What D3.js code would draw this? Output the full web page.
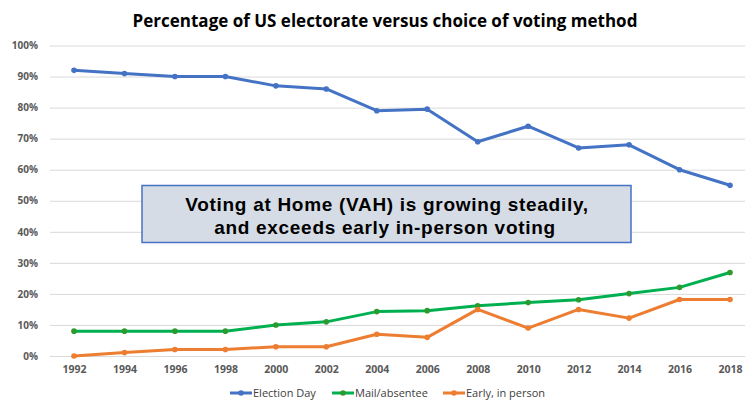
<!DOCTYPE html>
<html>
<head>
<meta charset="utf-8">
<script src="https://d3js.org/d3.v7.min.js"></script>
<style>
  body { margin: 0; background: #fff; }
  svg { display: block; }
</style>
</head>
<body>
<div id="chart"></div>
<script>
// data
var years = [1992, 1994, 1996, 1998, 2000, 2002, 2004, 2006, 2008, 2010, 2012, 2014, 2016, 2018];
var electionDay = [92, 91, 90, 90, 87, 86, 79, 79.5, 69, 74, 67, 68, 60, 55];
var mailAbsentee = [8, 8, 8, 8, 10, 11, 14.3, 14.6, 16.2, 17.2, 18.1, 20.1, 22.1, 26.9];
var earlyInPerson = [0, 1.1, 2.1, 2.1, 3, 3, 7, 6, 15, 9, 15, 12.2, 18.2, 18.2];
var yTicks = [0, 10, 20, 30, 40, 50, 60, 70, 80, 90, 100];

var seriesList = [
  { name: "Election Day", values: electionDay, color: "#4472c4", dot: "#4472c4" },
  { name: "Mail/absentee", values: mailAbsentee, color: "#00b050", dot: "#2e9a2e" },
  { name: "Early, in person", values: earlyInPerson, color: "#ed7d31", dot: "#ed7d31" }
];

var width = 749, height = 400;
var margin = { top: 45.5, right: 19, bottom: 44, left: 74 };

var svg = d3.select("#chart").append("svg")
  .attr("width", width)
  .attr("height", height);

var x = d3.scalePoint()
  .domain(years)
  .range([margin.left, width - margin.right]);

var y = d3.scaleLinear()
  .domain([0, 100])
  .range([height - margin.bottom, margin.top]);

// TITLE
svg.append("text")
  .attr("x", 385)
  .attr("y", 27)
  .attr("text-anchor", "middle")
  .style("font-family", "'Open Sans', sans-serif")
  .style("font-weight", "bold")
  .style("font-size", "17px")
  .style("fill", "#000")
  .text("Percentage of US electorate versus choice of voting method");

// GRIDLINES + Y LABELS
var yAxis = d3.axisLeft(y)
  .tickValues(yTicks)
  .tickSize(-(width - 4 - 50))
  .tickPadding(12)
  .tickFormat(function(d) { return d + "%"; });

var gy = svg.append("g")
  .attr("transform", "translate(50,0)")
  .call(yAxis);
gy.select(".domain").remove();
gy.selectAll(".tick line").attr("stroke", "#d9d9d9").attr("stroke-width", 1);
gy.selectAll(".tick text")
  .attr("x", -12)
  .style("font-family", "'Open Sans', sans-serif")
  .style("font-weight", "bold")
  .style("font-size", "10px")
  .style("fill", "#595959");

// X LABELS
var xAxis = d3.axisBottom(x).tickSize(0).tickPadding(10);
var gx = svg.append("g")
  .attr("transform", "translate(0," + (height - margin.bottom) + ")")
  .call(xAxis);
gx.select(".domain").remove();
gx.selectAll(".tick text")
  .style("font-family", "'Open Sans', sans-serif")
  .style("font-weight", "bold")
  .style("font-size", "10.5px")
  .style("fill", "#595959");

// LINES
var line = d3.line()
  .x(function(d, i) { return x(years[i]); })
  .y(function(d) { return y(d); });

seriesList.forEach(function(s) {
  svg.append("path")
    .datum(s.values)
    .attr("fill", "none")
    .attr("stroke", s.color)
    .attr("stroke-width", 3)
    .attr("stroke-linejoin", "round")
    .attr("d", line);
  svg.selectAll(null)
    .data(s.values)
    .enter().append("circle")
    .attr("cx", function(d, i) { return x(years[i]); })
    .attr("cy", function(d) { return y(d); })
    .attr("r", 2.8)
    .attr("fill", s.dot);
});

// ANNOTATION BOX
svg.append("rect")
  .attr("x", 142)
  .attr("y", 185.5)
  .attr("width", 489)
  .attr("height", 57)
  .attr("fill", "#d6dce5")
  .attr("stroke", "#4472c4")
  .attr("stroke-width", 1.5);

var note = svg.append("text")
  .attr("text-anchor", "middle")
  .style("font-family", "'Liberation Sans', Arial, sans-serif")
  .style("font-weight", "bold")
  .style("font-size", "19px")
  .style("letter-spacing", "0.7px")
  .style("fill", "#000");
note.append("tspan").attr("x", 387).attr("y", 210.5).text("Voting at Home (VAH) is growing steadily,");
note.append("tspan").attr("x", 385).attr("y", 233.5).text("and exceeds early in-person voting");

// LEGEND
var legendX = [230, 332, 443];
var legend = svg.selectAll(".legend")
  .data(seriesList)
  .enter().append("g")
  .attr("class", "legend")
  .attr("transform", function(d, i) { return "translate(" + legendX[i] + ",393)"; });

legend.append("line")
  .attr("x1", 0).attr("x2", 22)
  .attr("y1", 0).attr("y2", 0)
  .attr("stroke", function(d) { return d.color; })
  .attr("stroke-width", 3);
legend.append("circle")
  .attr("cx", 11).attr("cy", 0).attr("r", 2.8)
  .attr("fill", function(d) { return d.dot; });
legend.append("text")
  .attr("x", 23)
  .attr("y", 4)
  .style("font-family", "'Open Sans', sans-serif")
  .style("font-size", "11px")
  .style("fill", "#404040")
  .text(function(d) { return d.name; });
</script>
</body>
</html>
